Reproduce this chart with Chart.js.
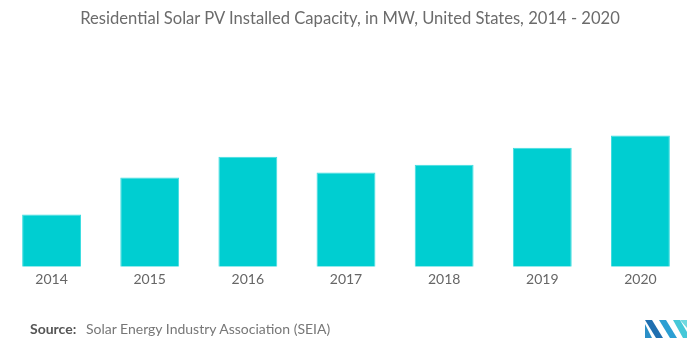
<!DOCTYPE html>
<html>
<head>
<meta charset="utf-8">
<script src="https://cdn.jsdelivr.net/npm/chart.js@4"></script>
<style>
html,body{margin:0;padding:0;background:#fff;}
#wrap{position:relative;width:700px;height:352px;overflow:hidden;}
#c{position:absolute;left:0;top:0;}
#title{position:absolute;left:0;top:8px;width:700px;text-align:center;font-family:Lato,"Open Sans",sans-serif;font-size:16.6px;color:#6b6b6b;}
#source{position:absolute;left:30px;top:320px;font-family:Lato,"Open Sans",sans-serif;font-size:14px;color:#777;}
#source b{color:#555;font-weight:700;margin-right:6px;}
#logo{position:absolute;left:645px;top:318px;}
</style>
</head>
<body>
<div id="wrap">
<canvas id="c" width="700" height="352"></canvas>
<div id="title">Residential Solar PV Installed Capacity, in MW, United States, 2014 - 2020</div>
<div id="source"><b>Source:</b> Solar Energy Industry Association (SEIA)</div>
<svg id="logo" width="42" height="22" viewBox="0 0 42 22">
  <polygon points="0,2 7,2 18,20 11,20" fill="#1f6fb0"/>
  <polygon points="0,6 0,20 7,20" fill="#2a8fc7"/>
  <polygon points="14,2 21,2 32,20 25,20" fill="#2b9fd3"/>
  <polygon points="28,2 35,2 42,14 42,20 38,20" fill="#45c8d8"/>
  <polygon points="35,2 42,2 42,10" fill="#6fd9e0"/>
</svg>
</div>
<script>
const categories = ["2014","2015","2016","2017","2018","2019","2020"];
const capacityMW = [1230, 2100, 2590, 2220, 2400, 2800, 3090];
const yMax = 3500;

new Chart(document.getElementById('c'), {
  type: 'bar',
  data: {
    labels: categories,
    datasets: [{
      data: capacityMW,
      backgroundColor: '#00ced1',
      borderColor: '#3fdde0',
      borderWidth: 1,
      barPercentage: 0.6,
      categoryPercentage: 1.0
    }]
  },
  options: {
    responsive: false,
    animation: false,
    layout: { padding: { top: 118, bottom: 60.4, left: 2.5, right: 10.5 } },
    plugins: { legend: { display: false }, tooltip: { enabled: false }, title: { display: false } },
    scales: {
      x: {
        grid: { display: false, drawTicks: false },
        border: { display: false },
        ticks: { color: '#666', padding: 4, font: { family: 'Lato', size: 14 } }
      },
      y: { display: false, min: 0, max: yMax }
    }
  }
});
</script>
</body>
</html>
